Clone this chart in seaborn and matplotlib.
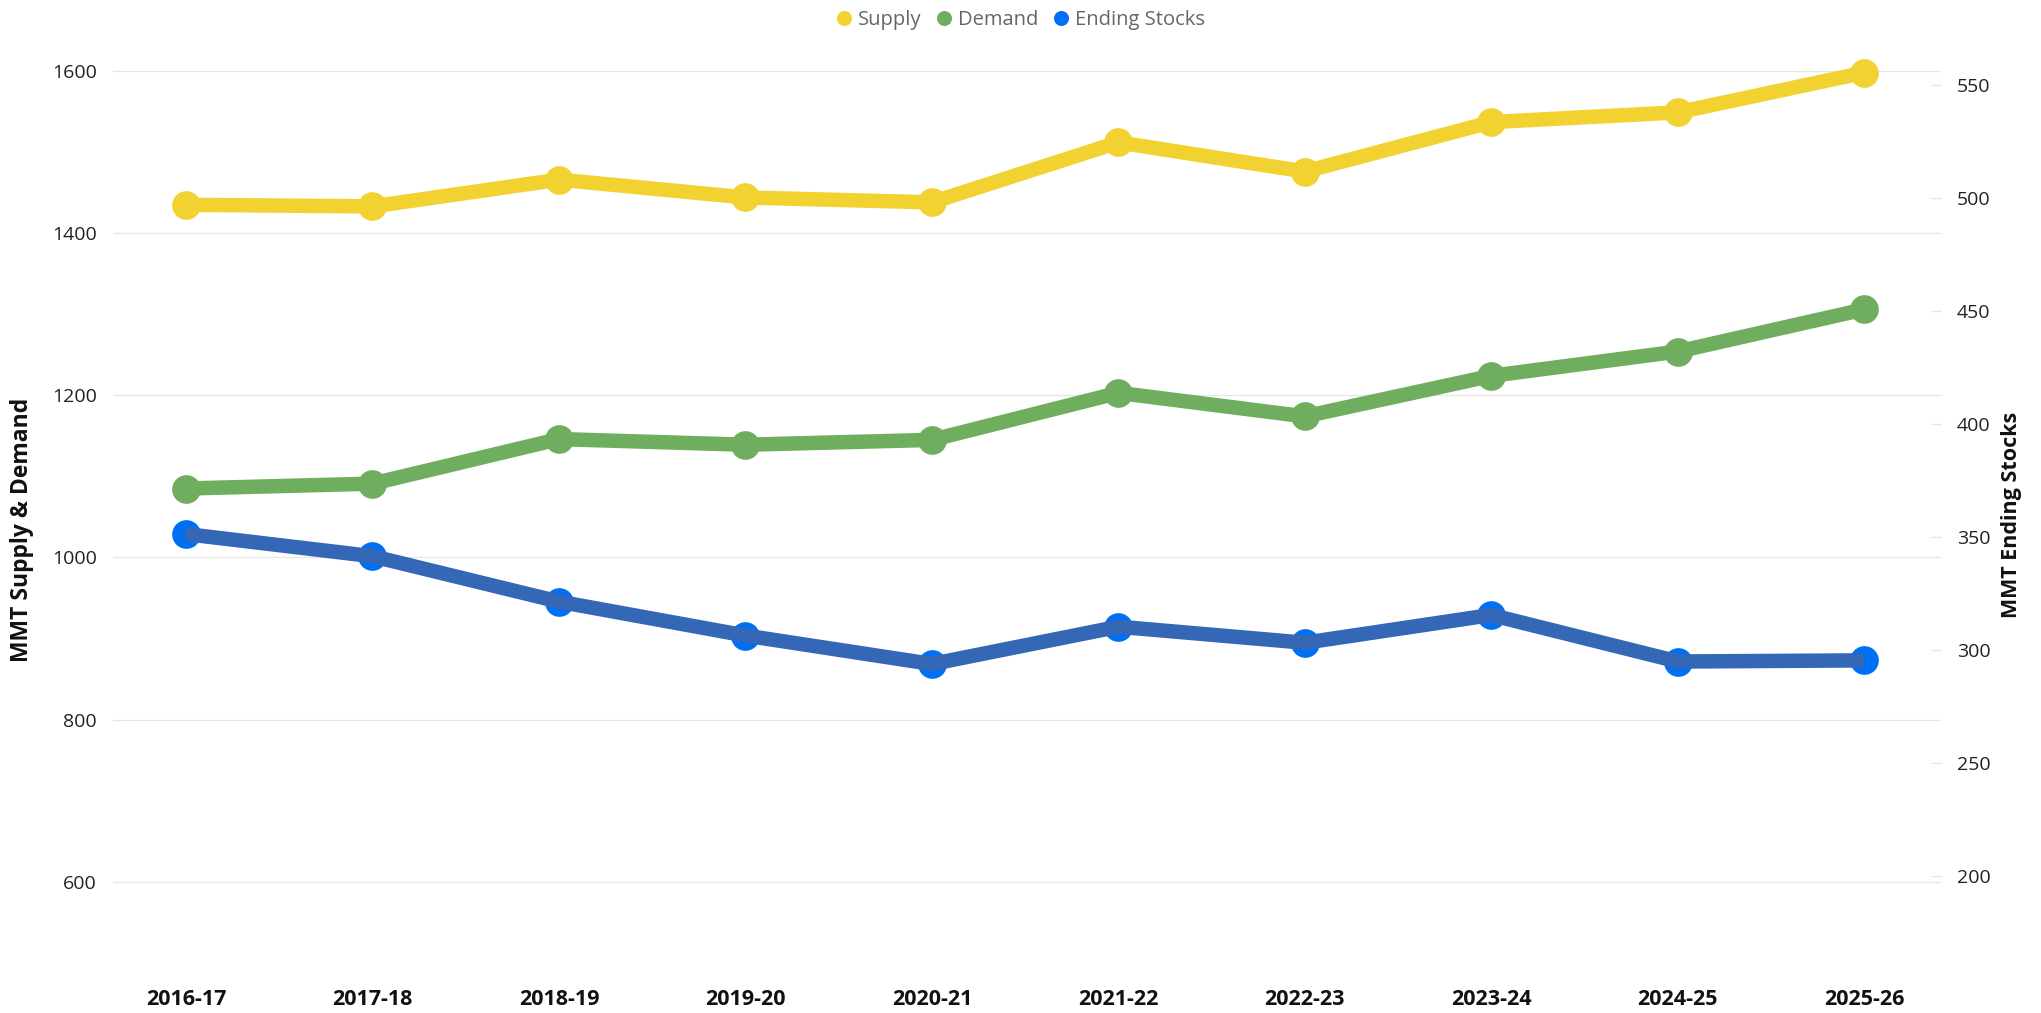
import numpy as np
import pandas as pd
import matplotlib
matplotlib.use("Agg")
import matplotlib.pyplot as plt
import seaborn as sns
from matplotlib.lines import Line2D

# ---- data ----
years = ["2016-17", "2017-18", "2018-19", "2019-20", "2020-21",
         "2021-22", "2022-23", "2023-24", "2024-25", "2025-26"]
supply = [1435, 1433, 1466, 1444, 1438, 1512, 1476, 1537, 1549, 1598]
demand = [1085, 1091, 1146, 1139, 1145, 1203, 1174, 1224, 1254, 1306]
stocks = [351.3, 341.5, 321.4, 306.4, 293.8, 310.3, 303.2, 315.5, 294.9, 295.4]
left_ticks = [600, 800, 1000, 1200, 1400, 1600]
right_ticks = [200, 250, 300, 350, 400, 450, 500, 550]

sns.set_theme(style="white")
plt.rcParams["font.family"] = ["Open Sans", "DejaVu Sans"]

W, H = 2041, 1013
fig = plt.figure(figsize=(W / 100, H / 100), dpi=100)
ax = fig.add_axes([112.7 / W, 1 - 960 / H, (1940.7 - 112.7) / W, (960 - 39) / H])
ax2 = ax.twinx()

df = pd.DataFrame({"pos": np.arange(len(years)), "Year": years,
                   "Supply": supply, "Demand": demand, "Ending Stocks": stocks})

px = 72 / 100
lw = 14.5 * px
ms = 28.7 * px
colors = {"Supply": "#f2d230", "Demand": "#6fae5f"}
stock_marker = "#0070f2"
stock_line = "#3468b6"

for name in ["Supply", "Demand"]:
    sns.lineplot(data=df, x="pos", y=name, ax=ax, color=colors[name], lw=lw,
                 marker="o", markersize=ms, markeredgewidth=0,
                 solid_capstyle="butt", solid_joinstyle="round",
                 legend=False, zorder=3)

sns.scatterplot(data=df, x="pos", y="Ending Stocks", ax=ax2, color=stock_marker,
                s=ms ** 2, linewidth=0, zorder=2, legend=False)
sns.lineplot(data=df, x="pos", y="Ending Stocks", ax=ax2, color=stock_line, lw=lw,
             solid_capstyle="butt", solid_joinstyle="round", legend=False, zorder=3)

# ---- axes ----
ax.set_xlim(-0.393, 9.41)
ax.set_ylim(503.4, 1639.5)
ax2.set_ylim(162.8, 570.4)
ax.set_yticks(left_ticks)
ax2.set_yticks(right_ticks)
ax.set_xticks(df["pos"], years, fontweight="bold")

for a in (ax, ax2):
    for s in a.spines.values():
        s.set_visible(False)
ax.yaxis.grid(True, color="#e6e6e6", lw=0.9)
ax.xaxis.grid(False)
ax2.grid(False)

ax.tick_params(axis="y", length=0, pad=11.5, labelsize=14, labelcolor="#222222")
ax.tick_params(axis="x", length=0, pad=21, labelsize=15.5, labelcolor="#111111")
ax2.tick_params(axis="y", direction="in", length=7, width=1, color="#e6e6e6",
                pad=11.5, labelsize=14, labelcolor="#222222")

ax.set_xlabel("")
ax.set_ylabel("MMT Supply & Demand", fontsize=16.5, fontweight="bold", color="#111111")
ax.yaxis.set_label_coords(22 / W, 1 - 530 / H, transform=fig.transFigure)
ax.yaxis.label.set_va("center")
ax2.set_ylabel("MMT Ending Stocks", fontsize=15.5, fontweight="bold", color="#111111")
ax2.yaxis.set_label_coords(2012 / W, 1 - 515 / H, transform=fig.transFigure)
ax2.yaxis.label.set_va("center")

# ---- legend ----
handles = [Line2D([], [], ls="", marker="o", color=c, markersize=10.8, mew=0)
           for c in [colors["Supply"], colors["Demand"], stock_marker]]
fig.legend(handles, ["Supply", "Demand", "Ending Stocks"], loc="center",
           bbox_to_anchor=(0.5, 1 - 20 / H), ncol=3, frameon=False, fontsize=14.5,
           handlelength=0.8, handletextpad=0.3, columnspacing=0.7,
           labelcolor="#666666")

fig.savefig("out.png", dpi=100)
